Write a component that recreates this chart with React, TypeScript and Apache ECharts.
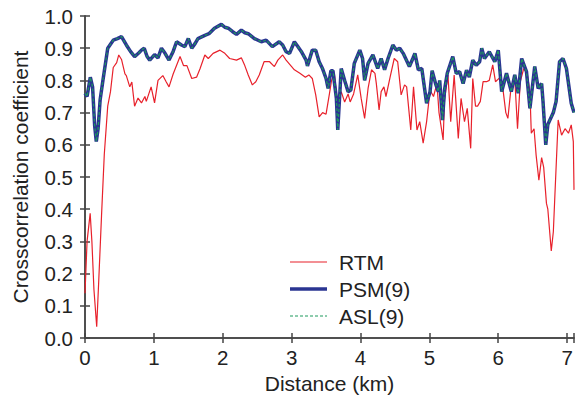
import React, { useEffect, useRef } from "react";
import * as echarts from "echarts";

const rtmX = [0.00,0.03,0.075,0.10,0.13,0.17,0.20,0.24,0.28,0.33,0.37,0.41,0.46,0.49,0.53,0.58,0.60,0.65,0.68,0.72,0.77,0.82,0.87,0.89,0.96,1.01,1.06,1.13,1.18,1.22,1.28,1.38,1.43,1.48,1.55,1.62,1.67,1.74,1.79,1.86,1.96,2.03,2.10,2.20,2.27,2.32,2.37,2.43,2.48,2.53,2.60,2.68,2.75,2.80,2.87,2.92,3.00,3.04,3.12,3.20,3.25,3.30,3.35,3.40,3.45,3.50,3.55,3.58,3.62,3.67,3.72,3.77,3.82,3.85,3.90,3.96,4.01,4.06,4.11,4.16,4.21,4.23,4.27,4.30,4.34,4.37,4.43,4.49,4.54,4.59,4.64,4.67,4.73,4.77,4.82,4.86,4.91,4.96,5.01,5.06,5.11,5.14,5.20,5.22,5.27,5.31,5.36,5.42,5.46,5.51,5.55,5.60,5.63,5.67,5.70,5.74,5.78,5.83,5.87,5.92,5.96,6.03,6.07,6.11,6.14,6.19,6.24,6.28,6.32,6.37,6.42,6.46,6.48,6.52,6.55,6.59,6.63,6.66,6.70,6.72,6.77,6.80,6.82,6.87,6.92,6.97,7.02,7.06,7.09,7.10];
const rtmY = [0.139,0.30,0.387,0.30,0.15,0.035,0.18,0.38,0.57,0.72,0.765,0.84,0.855,0.879,0.865,0.82,0.815,0.78,0.795,0.72,0.745,0.73,0.75,0.735,0.78,0.73,0.80,0.815,0.795,0.78,0.82,0.874,0.846,0.846,0.806,0.81,0.836,0.879,0.868,0.884,0.894,0.884,0.868,0.863,0.87,0.846,0.817,0.786,0.796,0.817,0.858,0.858,0.843,0.863,0.879,0.863,0.843,0.833,0.822,0.81,0.817,0.806,0.755,0.687,0.70,0.695,0.76,0.80,0.822,0.72,0.765,0.733,0.758,0.733,0.758,0.817,0.744,0.682,0.775,0.833,0.822,0.79,0.708,0.765,0.78,0.75,0.81,0.868,0.858,0.755,0.786,0.78,0.646,0.78,0.646,0.672,0.605,0.672,0.77,0.75,0.79,0.70,0.615,0.739,0.817,0.672,0.817,0.62,0.744,0.672,0.713,0.589,0.806,0.72,0.72,0.735,0.796,0.796,0.80,0.848,0.796,0.81,0.77,0.70,0.682,0.786,0.806,0.65,0.796,0.837,0.822,0.765,0.636,0.65,0.568,0.49,0.56,0.53,0.418,0.40,0.27,0.33,0.43,0.677,0.63,0.65,0.636,0.662,0.61,0.46];

const psmX = [0.00,0.03,0.077,0.11,0.14,0.164,0.19,0.22,0.26,0.33,0.41,0.47,0.53,0.60,0.66,0.72,0.78,0.82,0.86,0.90,0.94,1.01,1.06,1.11,1.16,1.22,1.28,1.33,1.40,1.45,1.50,1.55,1.60,1.64,1.74,1.80,1.88,1.98,2.03,2.08,2.14,2.20,2.27,2.32,2.37,2.46,2.56,2.63,2.72,2.82,2.87,2.92,2.97,3.04,3.09,3.14,3.21,3.23,3.30,3.35,3.40,3.45,3.50,3.53,3.57,3.60,3.65,3.67,3.72,3.77,3.82,3.86,3.91,3.99,4.03,4.06,4.11,4.18,4.25,4.30,4.35,4.40,4.47,4.52,4.57,4.62,4.71,4.76,4.79,4.84,4.89,4.96,5.01,5.04,5.09,5.13,5.15,5.19,5.22,5.26,5.34,5.39,5.44,5.49,5.54,5.58,5.63,5.68,5.73,5.76,5.80,5.87,5.95,6.00,6.05,6.12,6.19,6.24,6.29,6.34,6.41,6.46,6.53,6.58,6.63,6.65,6.69,6.72,6.80,6.84,6.89,6.94,6.99,7.06,7.10];
const psmY = [0.76,0.75,0.81,0.78,0.66,0.61,0.65,0.74,0.80,0.90,0.925,0.93,0.936,0.91,0.89,0.874,0.885,0.894,0.90,0.875,0.863,0.88,0.87,0.90,0.885,0.863,0.89,0.92,0.91,0.905,0.93,0.90,0.915,0.93,0.94,0.945,0.962,0.974,0.965,0.962,0.952,0.943,0.956,0.948,0.945,0.93,0.92,0.925,0.905,0.92,0.91,0.889,0.884,0.92,0.905,0.89,0.863,0.845,0.894,0.894,0.858,0.836,0.806,0.775,0.83,0.83,0.744,0.646,0.837,0.80,0.765,0.77,0.853,0.894,0.868,0.80,0.853,0.879,0.837,0.868,0.833,0.868,0.91,0.894,0.90,0.884,0.843,0.868,0.884,0.833,0.837,0.729,0.765,0.83,0.79,0.765,0.80,0.677,0.77,0.822,0.874,0.822,0.827,0.79,0.832,0.81,0.863,0.847,0.858,0.90,0.868,0.889,0.858,0.894,0.765,0.822,0.765,0.817,0.76,0.868,0.827,0.713,0.843,0.775,0.79,0.735,0.60,0.663,0.70,0.735,0.858,0.868,0.837,0.729,0.70];

// ASL(9) overlays PSM(9) visually
const aslX = psmX;
const aslY = psmY;

const legendNames = ["RTM", "PSM(9)", "ASL(9)"];
const xName = "Distance (km)";
const yName = "Crosscorrelation coefficient";

const pairs = (xs: number[], ys: number[]) => xs.map((x, i) => [x, ys[i]]);

const FONT = '"Liberation Sans", Arial, Helvetica, sans-serif';
const AXIS_COLOR = "#444";
const RED = "#e8212b";
const BLUE = "#2a3592";
const GREEN = "#1d9a5c";

export default function App() {
  const ref = useRef<HTMLDivElement>(null);
  useEffect(() => {
    if (!ref.current) return;
    const chart = echarts.init(ref.current, null, { renderer: "svg" });
    const axisLine = { show: true, lineStyle: { color: AXIS_COLOR, width: 1.5 } };
    const axisTick = { show: true, inside: true, length: 5, lineStyle: { color: AXIS_COLOR, width: 1.5 } };
    const labelStyle = { fontSize: 20.5, color: "#222", fontFamily: FONT };
    const styles = [
      { color: RED, width: 1.2, dash: null as null | number[] },
      { color: BLUE, width: 3.5, dash: null as null | number[] },
      { color: GREEN, width: 1.2, dash: [3, 2] },
    ];
    const legendGraphics: any[] = [];
    legendNames.forEach((name, i) => {
      const cy = 262 + i * 27;
      const s = styles[i];
      legendGraphics.push({
        type: "line",
        shape: { x1: 290, y1: cy, x2: 327, y2: cy },
        style: { stroke: s.color, lineWidth: s.width, lineDash: s.dash || undefined },
      });
      legendGraphics.push({
        type: "text",
        x: 339,
        y: cy,
        style: { text: name, fontSize: 21, fill: "#222", fontFamily: FONT, textVerticalAlign: "middle", verticalAlign: "middle" },
      });
    });
    chart.setOption({
      animation: false,
      textStyle: { fontFamily: FONT },
      grid: { left: 85, right: 1, top: 16, bottom: 57, containLabel: false, outerBoundsMode: "none" },
      graphic: legendGraphics,
      xAxis: [
        {
          type: "value",
          position: "bottom",
          min: 0,
          max: 7.1,
          interval: 1,
          axisLine,
          axisTick,
          splitLine: { show: false },
          axisLabel: {
            ...labelStyle,
            margin: 9,
            formatter: (v: number) => (Number.isInteger(v) ? String(v) : ""),
          },
          name: xName,
          nameLocation: "middle",
          nameGap: 35,
          nameTextStyle: { fontSize: 21, color: "#222", fontFamily: FONT },
        },
        {
          type: "value",
          position: "top",
          min: 0,
          max: 7.1,
          interval: 1,
          axisLine,
          axisTick,
          splitLine: { show: false },
          axisLabel: { show: false },
        },
      ],
      yAxis: [
        {
          type: "value",
          position: "left",
          min: 0,
          max: 1,
          interval: 0.1,
          axisLine,
          axisTick,
          splitLine: { show: false },
          axisLabel: { ...labelStyle, margin: 12, formatter: (v: number) => v.toFixed(1) },
          name: yName,
          nameLocation: "middle",
          nameGap: 54,
          nameTextStyle: { fontSize: 21, color: "#222", fontFamily: FONT },
        },
        {
          type: "value",
          position: "right",
          min: 0,
          max: 1,
          interval: 0.1,
          axisLine,
          axisTick,
          splitLine: { show: false },
          axisLabel: { show: false },
        },
      ],
      series: [
        {
          name: legendNames[0],
          type: "line",
          data: pairs(rtmX, rtmY),
          symbol: "none",
          lineStyle: { color: RED, width: 1.2 },
          itemStyle: { color: RED },
          z: 2,
        },
        {
          name: legendNames[1],
          type: "line",
          data: pairs(psmX, psmY),
          symbol: "none",
          lineStyle: { color: BLUE, width: 3.5 },
          itemStyle: { color: BLUE },
          z: 3,
        },
        {
          name: legendNames[2],
          type: "line",
          data: pairs(aslX, aslY),
          symbol: "none",
          lineStyle: { color: GREEN, width: 1.2, type: [3, 2] },
          itemStyle: { color: GREEN },
          z: 4,
        },
      ],
    });
    return () => chart.dispose();
  }, []);
  return (
    <div
      ref={ref}
      style={{ position: "absolute", left: 0, top: 0, width: 575, height: 395, background: "#fff" }}
    />
  );
}
